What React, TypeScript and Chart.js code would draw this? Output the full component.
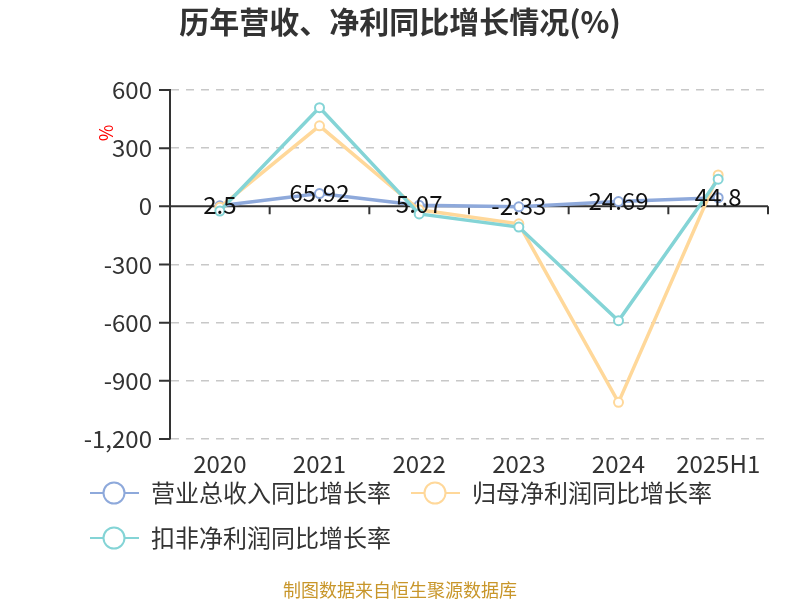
import React, { useEffect, useRef } from 'react';
import { Chart, registerables } from 'chart.js';

Chart.register(...registerables);

const categories = ['2020', '2021', '2022', '2023', '2024', '2025H1'];
const revenueGrowth = [2.5, 65.92, 5.07, -2.33, 24.69, 44.8];
const netProfitGrowth = [-5, 415, -18, -90, -1011, 162];
const deductedProfitGrowth = [-24, 509, -39, -107, -590, 140];
const yTicks = { min: -1200, max: 600, step: 300 };

const seriesNames = ['营业总收入同比增长率', '归母净利润同比增长率', '扣非净利润同比增长率'];
const seriesColors = ['#8EA9DB', '#FFD89A', '#84D4D6'];

const FONT = '"Noto Sans CJK SC", "Noto Sans", sans-serif';

// zero line + ticks, title, unit, legend, footer, value labels
const decorPlugin = {
  id: 'decor',
  beforeDatasetsDraw(chart: any) {
    const { ctx, chartArea, scales } = chart;
    const y0 = scales.y.getPixelForValue(0);
    ctx.save();
    ctx.strokeStyle = '#333';
    ctx.lineWidth = 2;
    ctx.beginPath();
    ctx.moveTo(chartArea.left, y0);
    ctx.lineTo(chartArea.right, y0);
    const n = categories.length;
    const w = (chartArea.right - chartArea.left) / n;
    for (let i = 1; i <= n; i++) {
      const x = chartArea.left + w * i;
      ctx.moveTo(x, y0);
      ctx.lineTo(x, y0 + 8);
    }
    ctx.stroke();
    ctx.restore();
  },
  afterDatasetsDraw(chart: any) {
    const { ctx } = chart;
    const meta = chart.getDatasetMeta(0);
    ctx.save();
    ctx.font = `24px ${FONT}`;
    ctx.fillStyle = '#111';
    ctx.textAlign = 'center';
    ctx.textBaseline = 'middle';
    meta.data.forEach((pt: any, i: number) => {
      ctx.fillText(String(revenueGrowth[i]), pt.x, pt.y - 1);
    });
    ctx.restore();
  },
  afterDraw(chart: any) {
    const { ctx } = chart;
    ctx.save();
    // title
    ctx.font = `bold 30px ${FONT}`;
    ctx.fillStyle = '#333';
    ctx.textAlign = 'center';
    ctx.textBaseline = 'middle';
    ctx.fillText('历年营收、净利同比增长情况(%)', 400, 22);
    // unit
    ctx.save();
    ctx.translate(106, 133);
    ctx.rotate(-Math.PI / 2);
    ctx.font = `18px ${FONT}`;
    ctx.fillStyle = '#f00';
    ctx.fillText('%', 0, 0);
    ctx.restore();
    // legend
    const items = [
      { x: 90, y: 493 },
      { x: 411, y: 493 },
      { x: 90, y: 538 },
    ];
    items.forEach((it, i) => {
      ctx.strokeStyle = seriesColors[i];
      ctx.lineWidth = 2;
      ctx.beginPath();
      ctx.moveTo(it.x, it.y);
      ctx.lineTo(it.x + 49, it.y);
      ctx.stroke();
      ctx.beginPath();
      ctx.arc(it.x + 24, it.y, 10.5, 0, Math.PI * 2);
      ctx.fillStyle = '#fff';
      ctx.fill();
      ctx.stroke();
      ctx.font = `24px ${FONT}`;
      ctx.fillStyle = '#333';
      ctx.textAlign = 'left';
      ctx.fillText(seriesNames[i], it.x + 61, it.y);
    });
    // footer
    ctx.font = `18px ${FONT}`;
    ctx.fillStyle = '#C8962A';
    ctx.textAlign = 'center';
    ctx.fillText('制图数据来自恒生聚源数据库', 400, 590);
    ctx.restore();
  },
};

const App: React.FC = () => {
  const canvasRef = useRef<HTMLCanvasElement>(null);

  useEffect(() => {
    document.body.style.margin = '0';
    if (!canvasRef.current) return;
    const values = [revenueGrowth, netProfitGrowth, deductedProfitGrowth];
    const chart = new Chart(canvasRef.current, {
      type: 'line',
      data: {
        labels: categories,
        datasets: seriesNames.map((name, i) => ({
          label: name,
          data: values[i],
          borderColor: seriesColors[i],
          backgroundColor: '#fff',
          borderWidth: 3.5,
          pointRadius: 4.5,
          pointBorderWidth: 2,
          pointBackgroundColor: '#fff',
          pointBorderColor: seriesColors[i],
          tension: 0,
          order: 3 - i,
        })),
      },
      options: {
        responsive: false,
        animation: false,
        layout: { padding: { top: 90, right: 32, left: 0, bottom: 0 } },
        plugins: { legend: { display: false }, tooltip: { enabled: false } },
        scales: {
          x: {
            offset: true,
            grid: { display: false, drawTicks: false },
            border: { display: false },
            ticks: { color: '#333', font: { size: 24, family: FONT }, padding: 10, maxRotation: 0 },
            afterFit: (s: any) => { s.height = 161; },
          },
          y: {
            min: yTicks.min,
            max: yTicks.max,
            grid: {
              color: (c: any) => (c.tick && c.tick.value === 0 ? 'rgba(0,0,0,0)' : '#c8c8c8'),
              lineWidth: 1.5,
              drawTicks: false,
            },
            border: { display: true, color: '#333', width: 2, dash: [8, 7] },
            ticks: {
              stepSize: yTicks.step,
              color: '#333',
              font: { size: 24, family: FONT },
              padding: 18,
              callback: (v: any) => Number(v).toLocaleString('en-US'),
            },
            afterFit: (s: any) => { s.width = 170; },
          },
        },
      },
      plugins: [
        decorPlugin,
        {
          id: 'yTickMarks',
          afterDraw(chart: any) {
            const { ctx, scales, chartArea } = chart;
            ctx.save();
            ctx.strokeStyle = '#333';
            ctx.lineWidth = 2;
            ctx.beginPath();
            scales.y.ticks.forEach((t: any) => {
              const y = scales.y.getPixelForValue(t.value);
              ctx.moveTo(chartArea.left - 11, y);
              ctx.lineTo(chartArea.left, y);
            });
            ctx.stroke();
            ctx.restore();
          },
        },
      ],
    });
    return () => chart.destroy();
  }, []);

  return <canvas ref={canvasRef} width={800} height={600} style={{ display: 'block' }} />;
};

export default App;
